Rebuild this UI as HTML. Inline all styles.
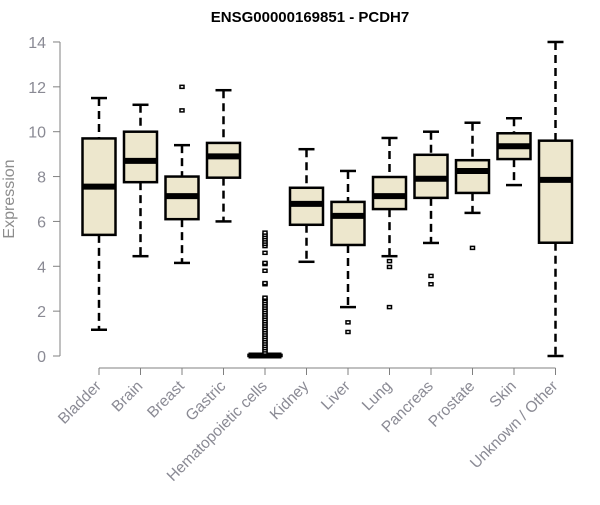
<!DOCTYPE html>
<html><head><meta charset="utf-8"><style>
body{margin:0;background:#fff}
svg{font-family:"Liberation Sans",Arial,sans-serif}
</style></head><body>
<svg id="chart" width="600" height="500">
<text x="310" y="22" text-anchor="middle" font-weight="bold" font-size="15" fill="#000">ENSG00000169851 - PCDH7</text>
<text x="0" y="0" transform="translate(14,199) rotate(-90)" text-anchor="middle" font-size="16" fill="#8c8c8c">Expression</text>
<g id="axes"></g><g id="boxes"></g>
</svg>
<script>
const categories=["Bladder","Brain","Breast","Gastric","Hematopoietic cells","Kidney","Liver","Lung","Pancreas","Prostate","Skin","Unknown / Other"];
const lowWhisker=[1.17,4.45,4.15,6.0,0,4.2,2.18,4.45,5.04,6.38,7.62,0];
const q1=[5.4,7.75,6.1,7.95,0,5.85,4.95,6.55,7.05,7.27,8.78,5.05];
const medians=[7.55,8.7,7.13,8.9,0.02,6.78,6.25,7.13,7.9,8.25,9.35,7.85];
const q3=[9.7,10.0,8.0,9.5,0.05,7.5,6.87,7.98,8.97,8.73,9.93,9.6];
const highWhisker=[11.5,11.2,9.4,11.85,0.08,9.22,8.25,9.72,10.0,10.4,10.6,14];
const outliers=[[],[],[12.0,10.95],[],
 [0.15,0.25,0.35,0.45,0.55,0.65,0.75,0.85,0.95,1.05,1.15,1.25,1.35,1.45,1.55,1.65,1.75,1.85,1.95,2.05,2.15,2.25,2.35,2.45,2.55,2.6,3.2,3.25,3.8,4.1,4.15,4.6,4.9,5.0,5.1,5.2,5.3,5.4,5.5],
 [],[1.5,1.07],[4.23,3.97,2.18],[3.57,3.2],[4.82],[],[]];
const yTicks=[0,2,4,6,8,10,12,14];
const NS="http://www.w3.org/2000/svg";
const y=v=>356-v*22.43;
const x=i=>99+i*41.5;
const ax=document.getElementById('axes'),bx=document.getElementById('boxes');
function mk(tag,attrs,parent){const e=document.createElementNS(NS,tag);for(const k in attrs)e.setAttribute(k,attrs[k]);parent.appendChild(e);return e;}
const yl=mk('line',{x1:60,x2:60,y1:y(14),y2:y(0),stroke:'#808080'},ax);


yTicks.forEach(t=>{
 const tl=mk('line',{x1:53,x2:60,y1:y(t),y2:y(t),stroke:'#808080'},ax);
 
 
 const tx=mk('text',{x:46,y:y(t)+6,'text-anchor':'end','font-size':16,fill:'#8a8a94'},ax);
 tx.textContent=t;
 
 
});
const xl=mk('line',{x1:x(0),x2:x(categories.length-1),y1:368,y2:368,stroke:'#808080'},ax);


categories.forEach((c,i)=>{
 const cx=x(i);
 const tk=mk('line',{x1:cx,x2:cx,y1:368,y2:375,stroke:'#808080'},ax);
 
 
 const lb=mk('text',{x:cx+3,y:387,'text-anchor':'end','font-size':15.5,fill:'#8a8a94',transform:`rotate(-45 ${cx+3} 387)`},ax);
 lb.textContent=c;
 
 
 const g=mk('g',{},bx);
 
 
 const st={stroke:'#000','stroke-width':2.5};
 mk('line',Object.assign({x1:cx,x2:cx,y1:y(highWhisker[i]),y2:y(q3[i]),'stroke-dasharray':'8,5'},st),g);
 mk('line',Object.assign({x1:cx,x2:cx,y1:y(q1[i]),y2:y(lowWhisker[i]),'stroke-dasharray':'8,5'},st),g);
 mk('line',Object.assign({x1:cx-8,x2:cx+8,y1:y(highWhisker[i]),y2:y(highWhisker[i])},st),g);
 mk('line',Object.assign({x1:cx-8,x2:cx+8,y1:y(lowWhisker[i]),y2:y(lowWhisker[i])},st),g);
 mk('rect',Object.assign({x:cx-16.5,y:y(q3[i]),width:33,height:Math.max(0.5,y(q1[i])-y(q3[i])),fill:'#ede7cd'},st),g);
 mk('line',{x1:cx-16.5,x2:cx+16.5,y1:y(medians[i]),y2:y(medians[i]),stroke:'#000','stroke-width':6},g);
 outliers[i].forEach(v=>{
  const p=mk('rect',{x:cx-2,y:y(v)-1.5,width:4,height:3,fill:'#fff',stroke:'#000','stroke-width':1.5},g);
  
  
 });
});
</script>
</body></html>
